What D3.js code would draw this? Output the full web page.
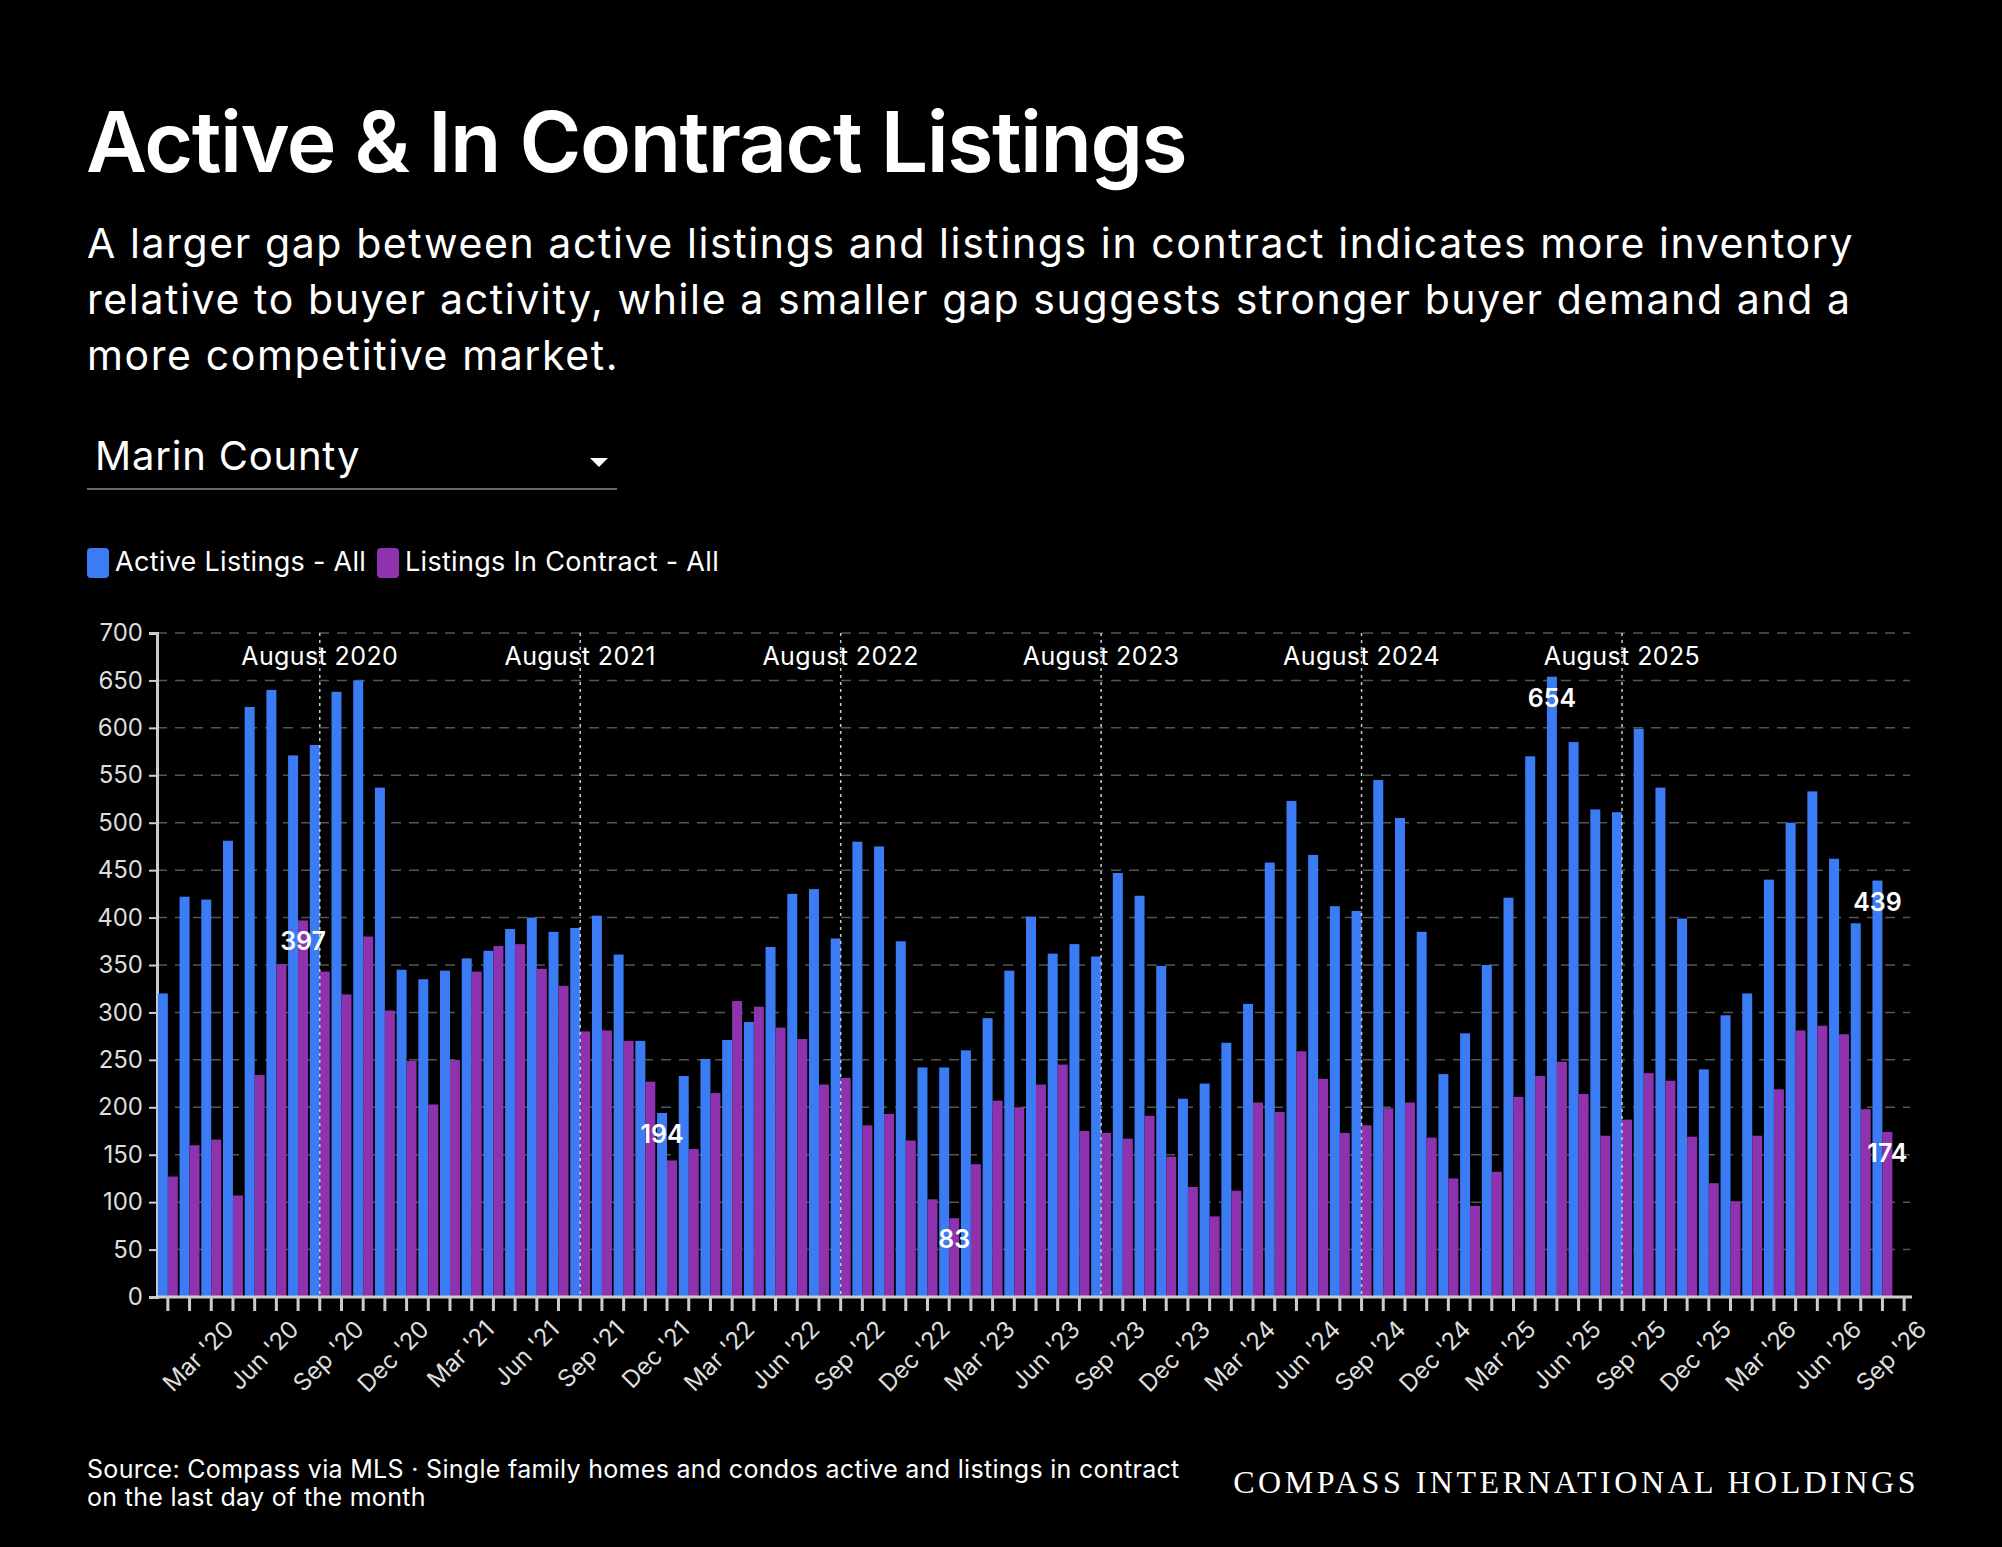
<!DOCTYPE html>
<html><head><meta charset="utf-8">
<script src="https://d3js.org/d3.v7.min.js"></script>
<style>html,body{margin:0;background:#000;}svg{display:block;}</style>
</head><body>
<script>
const months = ["Jan","Feb","Mar","Apr","May","Jun","Jul","Aug","Sep","Oct","Nov","Dec"];
const years = [2020,2021,2022,2023,2024,2025,2026];
const active = [320,422,419,481,622,640,571,582,638,650,537,345,
 335,344,357,365,388,400,385,389,402,361,270,194,
 233,251,271,290,369,425,430,378,480,475,375,242,
 242,260,294,344,401,362,372,359,447,423,349,209,
 225,268,309,458,523,466,412,407,545,505,385,235,
 278,350,421,570,654,585,514,511,599,537,399,240,
 297,320,440,500,533,462,394,439];
const inContract = [127,160,166,107,234,351,397,343,319,380,302,249,
 203,250,343,370,372,346,328,280,281,270,227,144,
 156,215,312,306,284,272,224,231,181,193,165,103,
 83,140,207,200,224,245,175,173,167,191,148,116,
 85,112,205,195,259,230,173,181,199,205,168,125,
 96,132,211,233,248,214,170,187,236,228,169,120,
 101,170,219,281,286,277,198,174];
const yTicks = [0,50,100,150,200,250,300,350,400,450,500,550,600,650,700];
const annotations = [
 {series:"c", idx:6, text:"397"},
 {series:"a", idx:23, text:"194"},
 {series:"c", idx:36, text:"83"},
 {series:"a", idx:64, text:"654"},
 {series:"a", idx:79, text:"439"},
 {series:"c", idx:79, text:"174"}
];
const BLUE="#3B7BF3", PURPLE="#8E32AE";
const F="Inter, Lato, sans-serif";
const W=2002,H=1547;
const svg=d3.select("body").append("svg").attr("width",W).attr("height",H);
svg.append("rect").attr("width",W).attr("height",H).attr("fill","#000");

svg.append("text").attr("x",86).attr("y",172).attr("fill","#fff").attr("font-family",F)
 .attr("font-size",84).attr("font-weight",600).attr("letter-spacing",-1.5).text("Active & In Contract Listings");
const sub=["A larger gap between active listings and listings in contract indicates more inventory",
 "relative to buyer activity, while a smaller gap suggests stronger buyer demand and a",
 "more competitive market."];
sub.forEach((s,i)=>svg.append("text").attr("x",87).attr("y",258+i*56).attr("fill","#fff")
 .attr("font-family",F).attr("font-size",41).attr("letter-spacing",1.6).text(s));

svg.append("text").attr("x",95).attr("y",470).attr("fill","#fff").attr("font-family",F).attr("font-size",40).attr("letter-spacing",0.8).text("Marin County");
svg.append("line").attr("x1",87).attr("x2",617).attr("y1",489).attr("y2",489).attr("stroke","#666").attr("stroke-width",2);
svg.append("path").attr("d","M590,458 L608,458 L599,467 Z").attr("fill","#fff");

const leg=[["Active Listings - All",BLUE,87],["Listings In Contract - All",PURPLE,377]];
leg.forEach(([t,c,x])=>{
 svg.append("rect").attr("x",x).attr("y",548).attr("width",22).attr("height",30).attr("rx",4).attr("fill",c);
 svg.append("text").attr("x",x+28).attr("y",571).attr("fill","#fff").attr("font-family",F).attr("font-size",27).attr("letter-spacing",0.3).text(t);
});

const dates=[];
years.forEach(y=>months.forEach(m=>dates.push(m+" '"+String(y).slice(2))));
const domain=dates.slice(0,81);
const x=d3.scaleBand().domain(domain).range([157,1915]).paddingInner(0).paddingOuter(0);
const bw=x.bandwidth();
const barW=bw*0.46;
const y=d3.scaleLinear().domain([0,700]).range([1297,633]);

svg.append("g").selectAll("line").data(yTicks.slice(1)).join("line")
 .attr("x1",157).attr("x2",1910).attr("y1",d=>y(d)).attr("y2",d=>y(d))
 .attr("stroke","#555").attr("stroke-dasharray","10,8").attr("stroke-width",1.5);

const ya=svg.append("g").attr("transform","translate(157,0)").call(d3.axisLeft(y).tickValues(yTicks).tickSize(8).tickPadding(6));
ya.select(".domain").attr("stroke","#ccc").attr("stroke-width",3);
ya.selectAll("line").attr("stroke","#ccc").attr("stroke-width",2);
ya.selectAll("text").attr("fill","#ddd").attr("font-family",F).attr("font-size",24);

const idx=d3.range(active.length);
svg.append("g").selectAll("rect").data(idx).join("rect")
 .attr("x",i=>x(domain[i])+bw/2-barW).attr("width",barW)
 .attr("y",i=>y(active[i])).attr("height",i=>y(0)-y(active[i])).attr("fill",BLUE);
svg.append("g").selectAll("rect").data(idx).join("rect")
 .attr("x",i=>x(domain[i])+bw/2).attr("width",barW)
 .attr("y",i=>y(inContract[i])).attr("height",i=>y(0)-y(inContract[i])).attr("fill",PURPLE);

years.slice(0,6).forEach(yr=>{
 const key="Aug '"+String(yr).slice(2);
 const cx=x(key)+bw/2;
 svg.append("line").attr("x1",cx).attr("x2",cx).attr("y1",633).attr("y2",1297)
  .attr("stroke","#ccc").attr("stroke-dasharray","3,4").attr("stroke-width",1.5);
 svg.append("text").attr("x",cx).attr("y",665).attr("text-anchor","middle").attr("fill","#fff")
  .attr("font-family",F).attr("font-size",25).attr("letter-spacing",0.4).text("August "+yr);
});

const xa=svg.append("g").attr("transform","translate(0,1297)")
 .call(d3.axisBottom(x).tickSize(14).tickFormat(d=>/^(Mar|Jun|Sep|Dec)/.test(d)?d:""));
xa.select(".domain").attr("stroke","#ccc").attr("stroke-width",3).attr("d","M157,0H1912");
xa.selectAll("line").attr("stroke","#ccc").attr("stroke-width",3);
xa.selectAll("text").attr("fill","#ddd").attr("font-family",F).attr("font-size",24)
 .attr("text-anchor","end").attr("transform","translate(0,10) rotate(-45)").attr("dy","0.7em");

annotations.forEach(a=>{
 const v=a.series==="a"?active[a.idx]:inContract[a.idx];
 const cx=x(domain[a.idx])+bw/2+(a.series==="a"?-barW/2:barW/2);
 svg.append("text").attr("x",cx).attr("y",y(v)+30).attr("text-anchor","middle").attr("fill","#fff")
  .attr("font-family",F).attr("font-size",25).attr("font-weight",600).text(a.text);
});

svg.append("text").attr("x",87).attr("y",1478).attr("fill","#fff").attr("font-family",F).attr("font-size",25).attr("letter-spacing",0.3)
 .text("Source: Compass via MLS · Single family homes and condos active and listings in contract");
svg.append("text").attr("x",87).attr("y",1506).attr("fill","#fff").attr("font-family",F).attr("font-size",25).attr("letter-spacing",0.3)
 .text("on the last day of the month");
svg.append("text").attr("x",1919).attr("y",1493).attr("text-anchor","end").attr("fill","#fff")
 .attr("font-family","'Liberation Serif', serif").attr("font-size",32).attr("letter-spacing",3.5)
 .text("COMPASS INTERNATIONAL HOLDINGS");
</script>
</body></html>
